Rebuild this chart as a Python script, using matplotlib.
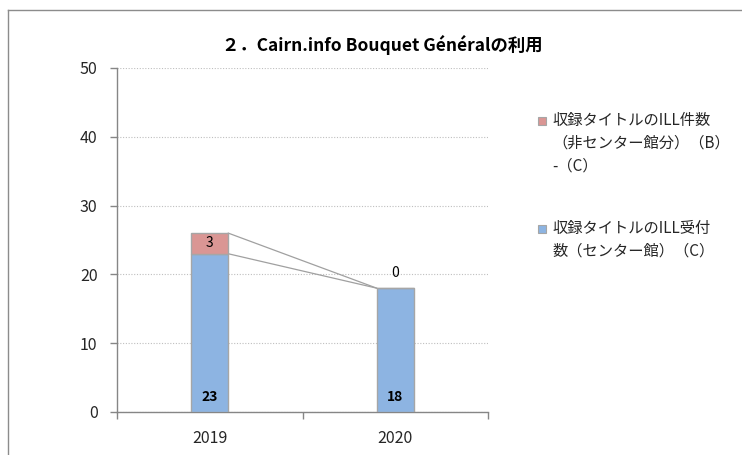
import matplotlib
matplotlib.use("Agg")
import matplotlib.pyplot as plt
from matplotlib.lines import Line2D
from matplotlib.patches import Rectangle

plt.rcParams['font.family'] = ['Noto Sans CJK JP', 'DejaVu Sans']

years = ['2019', '2020']
center_vals = [23, 18]      # 収録タイトルのILL受付数（センター館）（C）
noncenter_vals = [3, 0]     # 収録タイトルのILL件数（非センター館分）（B）-（C）
title = '２．Cairn.info Bouquet Généralの利用'
legend_noncenter = ['収録タイトルのILL件数', '（非センター館分）（B）', '-（C）']
legend_center = ['収録タイトルのILL受付', '数（センター館）（C）']

blue = '#8DB4E2'
red = '#DA9694'
edge = '#A6A6A6'
axis_gray = '#868686'

W, H = 742, 455
fig = plt.figure(figsize=(W / 100, H / 100), dpi=100)
ax = fig.add_axes([117 / W, 43 / H, 371 / W, 344 / H])

x = list(range(len(years)))
bw = 0.2
ax.bar(x, center_vals, width=bw, color=blue, edgecolor=edge, linewidth=1, zorder=3)
ax.bar(x, noncenter_vals, width=bw, bottom=center_vals, color=red, edgecolor=edge,
       linewidth=1, zorder=3)

# series lines
tops_c = center_vals
tops_n = [c + n for c, n in zip(center_vals, noncenter_vals)]
for i in range(len(x) - 1):
    ax.plot([x[i] + bw / 2, x[i + 1] - bw / 2], [tops_c[i], tops_c[i + 1]],
            color='#A0A0A0', lw=0.9, zorder=2)
    ax.plot([x[i] + bw / 2, x[i + 1] - bw / 2], [tops_n[i], tops_n[i + 1]],
            color='#A0A0A0', lw=0.9, zorder=2)

# data labels
for xi, c, n in zip(x, center_vals, noncenter_vals):
    ax.annotate(str(c), xy=(xi, 0), xytext=(0, 11), textcoords='offset points',
                ha='center', va='center', fontsize=10, fontweight='bold', zorder=5)
    if n > 0:
        ax.annotate(str(n), xy=(xi, c + n / 2), xytext=(0, 0), textcoords='offset points',
                    ha='center', va='center', fontsize=10, zorder=5)
    else:
        ax.annotate(str(n), xy=(xi, c), xytext=(0, 11), textcoords='offset points',
                    ha='center', va='center', fontsize=10, zorder=5)

ax.set_xlim(-0.5, len(years) - 0.5)
ax.set_ylim(0, 50)
ax.set_yticks(range(0, 51, 10))
ax.set_xticks(x)
ax.set_xticklabels(years)
ax.set_xticks([-0.5, 0.5, 1.5], minor=True)
ax.tick_params(axis='x', which='major', length=0, pad=13, labelsize=11.5, colors='#262626')
ax.tick_params(axis='x', which='minor', length=5, direction='out', color=axis_gray, width=1)
ax.tick_params(axis='y', length=5, direction='out', color=axis_gray, width=1, pad=9,
               labelsize=11.5, labelcolor='#262626')

ax.grid(axis='y', linestyle=(0, (1, 1.5)), color='#BFBFBF', linewidth=0.8, zorder=0)
ax.set_axisbelow(True)
for s in ['top', 'right']:
    ax.spines[s].set_visible(False)
for s in ['left', 'bottom']:
    ax.spines[s].set_color(axis_gray)
    ax.spines[s].set_linewidth(1)

# title
fig.text(382 / W, 1 - 45 / H, title, ha='center', va='center', fontsize=12.5,
         fontweight='bold', color='#000000')

# legend (manual)
def legend_entry(color, lines, y0):
    fig.add_artist(Rectangle((538 / W, 1 - (y0 + 4) / H), 8 / W, 8 / H,
                             transform=fig.transFigure, facecolor=color,
                             edgecolor=edge, linewidth=0.8))
    for k, line in enumerate(lines):
        fig.text(552 / W, 1 - (y0 + 22.5 * k) / H, line, ha='left', va='center',
                 fontsize=11, color='#262626')

legend_entry(red, legend_noncenter, 121)
legend_entry(blue, legend_center, 229)

# outer border (partially visible)
fig.add_artist(Line2D([8 / W, 1], [1 - 10 / H, 1 - 10 / H], transform=fig.transFigure,
                      color='#8C8C8C', lw=1))
fig.add_artist(Line2D([8 / W, 8 / W], [0, 1 - 10 / H], transform=fig.transFigure,
                      color='#8C8C8C', lw=1))

fig.savefig('out.png', dpi=100)
